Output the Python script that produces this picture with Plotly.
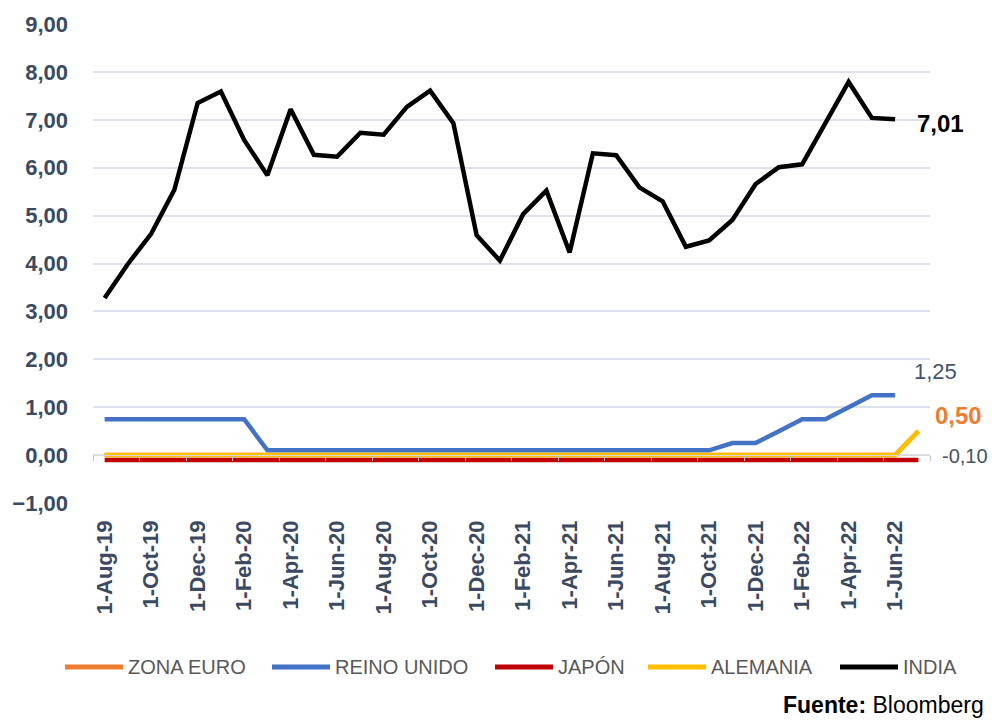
import plotly.graph_objects as go

months = ["1-Aug-19", "1-Sep-19", "1-Oct-19", "1-Nov-19", "1-Dec-19",
          "1-Jan-20", "1-Feb-20", "1-Mar-20", "1-Apr-20", "1-May-20", "1-Jun-20",
          "1-Jul-20", "1-Aug-20", "1-Sep-20", "1-Oct-20", "1-Nov-20", "1-Dec-20",
          "1-Jan-21", "1-Feb-21", "1-Mar-21", "1-Apr-21", "1-May-21", "1-Jun-21",
          "1-Jul-21", "1-Aug-21", "1-Sep-21", "1-Oct-21", "1-Nov-21", "1-Dec-21",
          "1-Jan-22", "1-Feb-22", "1-Mar-22", "1-Apr-22", "1-May-22", "1-Jun-22",
          "1-Jul-22"]

zona_euro = [0.00] * 35 + [0.50]
reino_unido = [0.75] * 7 + [0.10] * 20 + [0.25, 0.25, 0.50, 0.75, 0.75, 1.00, 1.25, 1.25]
japon = [-0.10] * 36
alemania = [0.00] * 35 + [0.50]
india = [3.28, 3.99, 4.62, 5.54, 7.35,
         7.59, 6.58, 5.84, 7.22, 6.27, 6.23,
         6.73, 6.69, 7.27, 7.61, 6.93, 4.59,
         4.06, 5.03, 5.52, 4.23, 6.30, 6.26,
         5.59, 5.30, 4.35, 4.48, 4.91, 5.66,
         6.01, 6.07, 6.95, 7.79, 7.04, 7.01,
         None]

series_names = ["ZONA EURO", "REINO UNIDO", "JAPÓN", "ALEMANIA", "INDIA"]
series_values = [zona_euro, reino_unido, japon, alemania, india]
series_colors = ["#ED7D31", "#4472C4", "#C00000", "#FFC000", "#000000"]

def fmt(v):
    return f"{v:.2f}".replace(".", ",")

# plot area in page pixels (page has an 8px body margin)
PX0, PX1, PY0, PY1 = 93, 930, 24, 503
def px(sx):
    return (sx - PX0) / (PX1 - PX0)
def py(sy):
    return (PY1 - sy) / (PY1 - PY0)

fig = go.Figure()
# helper axis for the small tick marks at the zero line
fig.add_trace(go.Scatter(x=[], y=[], xaxis="x2", showlegend=False, hoverinfo="skip"))
for name, vals, color in zip(series_names, series_values, series_colors):
    fig.add_trace(go.Scatter(x=months, y=vals, name=name, mode="lines",
                             line=dict(color=color, width=4.5), connectgaps=False,
                             showlegend=False))

tick_color = "#3B4A61"
last_india_idx = max(i for i, v in enumerate(india) if v is not None)

annotations = [
    dict(x=months[last_india_idx], y=india[last_india_idx], text=fmt(india[last_india_idx]),
         showarrow=False, xanchor="left", yanchor="middle", xshift=20, yshift=-4,
         font=dict(family="Liberation Sans", size=24, color="#000000", weight="bold")),
    dict(x=months[-1], y=reino_unido[-1], text=fmt(reino_unido[-1]),
         showarrow=False, xanchor="center", yanchor="middle", xshift=17, yshift=24,
         font=dict(family="Liberation Sans", size=22, color="#44546A")),
    dict(x=months[-1], y=zona_euro[-1], text=fmt(zona_euro[-1]),
         showarrow=False, xanchor="left", yanchor="middle", xshift=15, yshift=16,
         font=dict(family="Liberation Sans", size=24, color="#ED7D31", weight="bold")),
    dict(x=months[-1], y=japon[-1], text=fmt(japon[-1]),
         showarrow=False, xanchor="left", yanchor="middle", xshift=22, yshift=4,
         font=dict(family="Liberation Sans", size=20, color="#44546A")),
    dict(xref="paper", yref="paper", x=px(986), y=py(705),
         text="<b>Fuente:</b> Bloomberg", showarrow=False, xanchor="right", yanchor="middle",
         font=dict(family="Liberation Sans", size=23, color="#000000")),
]

# manual legend (long line samples like the original)
legend_line_x = [65, 272, 495, 648, 840]
legend_y = 667
shapes = []
for name, color, lx in zip(series_names, series_colors, legend_line_x):
    shapes.append(dict(type="line", xref="paper", yref="paper",
                       x0=px(lx), x1=px(lx + 58), y0=py(legend_y), y1=py(legend_y),
                       line=dict(color=color, width=5)))
    annotations.append(dict(xref="paper", yref="paper", x=px(lx + 61), y=py(legend_y),
                            text=name, showarrow=False, xanchor="left", yanchor="middle",
                            font=dict(family="Liberation Sans", size=20, color="#595959")))

W, H = 992, 713
fig.update_layout(
    width=W, height=H,
    margin=dict(l=PX0 - 8, r=W - (PX1 - 8), t=PY0 - 8, b=H - (PY1 - 8), pad=0),
    plot_bgcolor="white", paper_bgcolor="white",
    separators=",.",
    showlegend=False,
    xaxis=dict(type="category", categoryorder="array", categoryarray=months,
               range=[-0.5, len(months) - 0.5], automargin=False,
               tickmode="array", tickvals=months[::2], ticktext=months[::2],
               tickangle=-90, ticklabelstandoff=12,
               tickfont=dict(family="Liberation Sans", size=22, color=tick_color, weight="bold"),
               showgrid=False, showline=False, zeroline=False, ticks=""),
    xaxis2=dict(overlaying="x", anchor="free", position=0.1, range=[-0.5, len(months) - 0.5],
                automargin=False,
                tickmode="array", tickvals=[-0.5 + 2 * k for k in range(19)],
                showticklabels=False, ticks="outside", ticklen=5, tickcolor="#BFBFBF",
                showline=True, linecolor="#D9D9D9", showgrid=False, zeroline=False),
    yaxis=dict(range=[-1, 9], dtick=1, tickformat=".2f", ticklabelstandoff=24,
               automargin=False,
               tickfont=dict(family="Liberation Sans", size=22, color=tick_color, weight="bold"),
               showgrid=True, gridcolor="#DCE1EC", gridwidth=1.5,
               zeroline=False, showline=False, ticks=""),
    annotations=annotations,
    shapes=shapes,
)

fig.write_html("out.html")
